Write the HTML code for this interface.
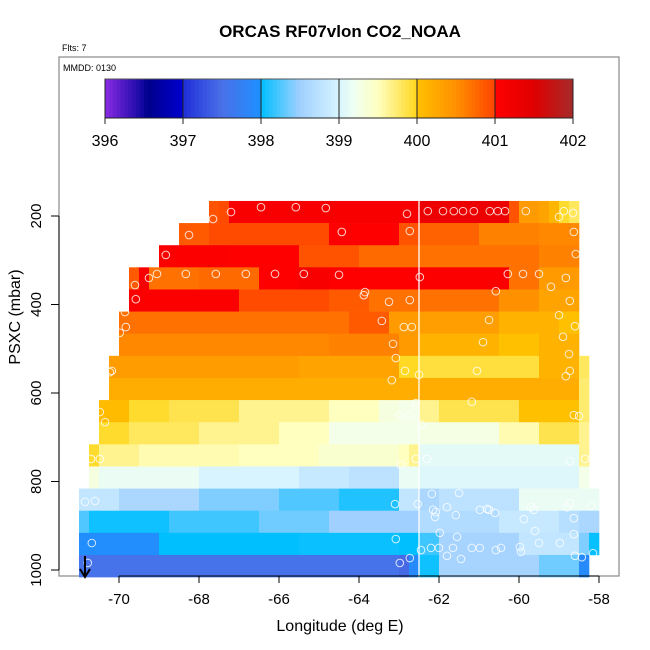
<!DOCTYPE html>
<html><head><meta charset="utf-8"><style>
body{margin:0;background:#fff;}
svg{display:block;font-family:"Liberation Sans",sans-serif;}
</style></head><body>
<svg id="chart" width="650" height="650" viewBox="0 0 650 650">
<text x="340" y="37" text-anchor="middle" font-size="17" font-weight="bold">ORCAS RF07vlon CO2_NOAA</text>
<text x="62" y="51" font-size="9">Flts: 7</text>
<rect x="59" y="57" width="560" height="519" fill="none" stroke="#888" stroke-width="1.2"/>
<text x="63" y="71" font-size="9">MMDD: 0130</text>
<g id="cbar"></g>
<g id="cells"></g>
<line id="vline" stroke="#fff" stroke-width="1.3"/>
<g id="pts"></g>
<g id="axes"></g>
<text x="340" y="631" text-anchor="middle" font-size="16">Longitude (deg E)</text>
<text transform="translate(20,317) rotate(-90)" text-anchor="middle" font-size="16">PSXC (mbar)</text>
<g><line x1="85" y1="556" x2="85" y2="576" stroke="#000" stroke-width="2"/><path d="M80,569 L85,577 L90,569" fill="none" stroke="#000" stroke-width="2"/></g>
</svg>
<script>
const NS="http://www.w3.org/2000/svg";
const colorStops=[396,396.45,396.55,397,397.01,397.5,397.99,398,398.5,399,399.2,399.5,399.99,400,400.5,400.99,401,401.5,402];
const colorHex=["#8a2be2","#1a0aa8","#00008b","#0000d0","#2030d8","#4a70e8","#1e90ff","#00bfff","#a0d0ff","#d8f4ff","#f0fff0","#ffffc0","#ffd820","#ffc000","#ff9000","#ff4500","#ff0000","#e00000","#a52a2a"];
const cbarTicks=[396,397,398,399,400,401,402];
const xTicks=[-70,-68,-66,-64,-62,-60,-58];
const yTicks=[200,400,600,800,1000];
const rowTopP=[166,216,266,316,366,416,466,516,566,616,666,716,766,816,866,916,966];
const rowStartLon=[-67.75,-68.5,-69,-69.75,-69.75,-70,-70,-70.25,-70.25,-70.5,-70.5,-70.75,-70.75,-71,-71,-71,-71];
const rowRuns=[
[[1,400.9],[1,400.95],[19,401.1],[9,401.3],[1,400.9],[2,400.4],[1,400.3],[1,400.1],[1,399.95],[1,399.8]],
[[3,400.85],[12,400.95],[7,401.0],[2,400.9],[6,400.8],[6,400.6],[4,400.55]],
[[7,401.05],[7,401.0],[6,400.9],[6,400.75],[12,400.7],[4,400.6]],
[[1,400.85],[1,401.1],[5,400.7],[6,400.75],[4,401.0],[3,401.1],[9,401.0],[9,401.05],[3,400.7],[4,400.4]],
[[11,401.05],[9,400.95],[4,400.85],[5,400.7],[8,400.7],[4,400.5],[4,400.3]],
[[23,400.7],[4,400.85],[3,400.4],[8,400.35],[6,400.15],[2,400.0]],
[[21,400.55],[7,400.6],[2,400.4],[8,400.15],[4,400.0],[4,400.15]],
[[19,400.38],[10,400.3],[2,399.98],[12,399.9],[4,400.15],[1,399.8]],
[[47,400.2],[1,399.75]],
[[3,400.05],[4,399.95],[7,399.85],[9,399.65],[5,399.5],[2,399.3],[2,399.25],[2,399.65],[8,399.85],[6,400.0],[1,399.75]],
[[3,399.95],[7,399.8],[8,399.65],[5,399.5],[9,399.25],[8,399.28],[4,399.55],[4,399.85],[1,399.65]],
[[1,399.95],[4,399.65],[10,399.55],[8,399.5],[8,399.4],[1,399.5],[1,399.65],[16,399.1],[1,399.65]],
[[1,399.3],[10,399.15],[10,399.0],[5,398.85],[5,398.75],[2,399.15],[8,399.05],[8,399.05],[1,399.25]],
[[4,398.8],[8,398.6],[8,398.4],[6,398.25],[6,398.1],[2,398.8],[2,398.6],[8,398.75],[8,399.15]],
[[1,398.25],[8,398.05],[9,398.2],[7,398.35],[9,398.5],[8,398.65],[6,398.85],[2,398.7],[2,398.6]],
[[8,397.95],[14,398.0],[10,398.03],[2,398.0],[2,398.2],[8,398.55],[6,398.8],[1,398.4],[1,398.02]],
[[32,397.55],[1,397.45],[1,397.9],[2,398.05],[10,398.55],[4,398.35],[1,397.9]]
];
const cellLon=0.25, rowDp=50, refLon=-62.5;
const ptLon=[-67.65,-67.2,-66.45,-65.58,-64.83,-62.8,-62.28,-61.9,-61.63,-61.4,-61.13,-60.73,-60.53,-60.35,-59.83,-59.0,-58.88,-58.65,-68.25,-64.43,-62.73,-58.63,-68.83,-58.58,-69.6,-69.25,-69.05,-68.33,-67.58,-66.83,-66.1,-65.38,-64.5,-62.48,-60.28,-59.9,-59.5,-59.2,-58.83,-69.58,-63.85,-63.88,-63.25,-62.73,-60.58,-58.73,-69.85,-69.83,-69.98,-63.43,-62.88,-62.68,-60.75,-59.0,-58.6,-63.15,-60.9,-58.9,-63.08,-58.75,-70.18,-70.23,-62.85,-62.5,-61.05,-58.73,-58.83,-63.18,-62.58,-61.18,-70.48,-70.35,-62.98,-62.73,-62.45,-58.63,-58.5,-70.7,-70.48,-62.58,-62.3,-58.73,-58.35,-62.95,-70.85,-70.6,-63.1,-62.53,-62.18,-61.5,-61.8,-62.15,-62.08,-62.1,-61.58,-60.98,-60.8,-60.75,-60.6,-59.7,-59.63,-59.88,-58.8,-58.73,-58.2,-58.63,-70.68,-63.08,-61.98,-61.55,-59.6,-58.63,-59.5,-58.98,-62.45,-62.2,-62.0,-61.65,-61.18,-60.98,-60.58,-60.45,-59.98,-59.95,-58.6,-58.43,-58.15,-61.8,-61.45,-70.78,-62.73,-62.98];
const ptP=[207,191,180,180,182,195,189,189,189,189,189,189,189,189,189,202,189,193,243,236,234,236,288,286,356,340,331,331,331,331,331,331,333,338,331,331,331,360,340,388,372,379,394,390,370,392,417,451,464,437,451,451,435,424,449,489,485,473,521,512,550,553,550,559,550,550,562,571,623,620,643,666,650,650,672,650,652,749,749,749,749,754,749,763,846,844,851,851,828,826,858,864,869,880,876,864,862,864,871,858,864,885,858,849,855,883,939,930,916,925,912,919,939,939,955,950,950,950,950,950,955,950,948,959,968,971,962,968,975,984,973,984];

const X=lon=>119+(lon+70)*40;
const Y=p=>216+(p-200)*0.4425;
const CB=v=>105+(v-396)*78;
function hex2rgb(h){return [1,3,5].map(i=>parseInt(h.substr(i,2),16));}
function col(v){
  if(v<=colorStops[0])return colorHex[0];
  for(let i=1;i<colorStops.length;i++){
    if(v<=colorStops[i]){
      const t=(v-colorStops[i-1])/(colorStops[i]-colorStops[i-1]);
      const a=hex2rgb(colorHex[i-1]),b=hex2rgb(colorHex[i]);
      return "rgb("+a.map((c,j)=>Math.round(c+(b[j]-c)*t)).join(",")+")";
    }
  }
  return colorHex[colorHex.length-1];
}
function mk(tag,attrs,parent){const e=document.createElementNS(NS,tag);for(const k in attrs)e.setAttribute(k,attrs[k]);parent.appendChild(e);return e;}

// colorbar
const cb=document.getElementById('cbar');
for(let v=396;v<402;v+=0.05){
  const r=mk('rect',{x:CB(v),y:79,width:78*0.05+0.4,height:39,fill:col(v+0.025)},cb);
  
  
}
const cf=mk('rect',{x:CB(396),y:79,width:CB(402)-CB(396),height:39,fill:'none',stroke:'#555','stroke-width':1},cb);


cbarTicks.forEach(v=>{
  const l=mk('line',{x1:CB(v),x2:CB(v),y1:79,y2:124,stroke:'#222','stroke-width':1},cb);
  
  
  const t=mk('text',{x:CB(v),y:146,'text-anchor':'middle','font-size':16},cb);
  
  
  t.textContent=v;
});
mk('line',{x1:CB(396),x2:CB(402),y1:118,y2:118,stroke:'#222'},cb);

// heatmap cells
const cg=document.getElementById('cells');
rowRuns.forEach((runs,ri)=>{
  let lon=rowStartLon[ri];
  const y0=Y(rowTopP[ri]), y1=Y(rowTopP[ri]+rowDp);
  runs.forEach(([n,v])=>{
    const x0=X(lon), x1=X(lon+n*cellLon);
    const r=mk('rect',{x:x0,y:y0,width:x1-x0+0.3,height:y1-y0+0.3,fill:col(v)},cg);
    
    
    lon+=n*cellLon;
  });
});
const vl=document.getElementById('vline');
vl.setAttribute('x1',X(refLon));vl.setAttribute('x2',X(refLon));
vl.setAttribute('y1',Y(rowTopP[0]));vl.setAttribute('y2',Y(rowTopP[rowTopP.length-1]+rowDp));

// points
const pg=document.getElementById('pts');
ptLon.forEach((lo,i)=>{
  const c=mk('circle',{cx:X(lo),cy:Y(ptP[i]),r:3.8,fill:'none',stroke:'rgba(255,255,255,0.8)','stroke-width':1},pg);
  
  
});

// axes
const ag=document.getElementById('axes');
mk('line',{x1:X(xTicks[0]),x2:X(xTicks[xTicks.length-1]),y1:576,y2:576,stroke:'#000'},ag);
xTicks.forEach(v=>{
  mk('line',{x1:X(v),x2:X(v),y1:576,y2:583,stroke:'#000'},ag);
  const t=mk('text',{x:X(v),y:604,'text-anchor':'middle','font-size':15},ag);
  
  
  t.textContent=v;
});
mk('line',{x1:59,x2:59,y1:Y(yTicks[0]),y2:Y(yTicks[yTicks.length-1]),stroke:'#000'},ag);
yTicks.forEach(v=>{
  mk('line',{x1:51,x2:59,y1:Y(v),y2:Y(v),stroke:'#000'},ag);
  const t=mk('text',{transform:'translate(41,'+Y(v)+') rotate(-90)','text-anchor':'middle','font-size':15},ag);
  
  
  t.textContent=v;
});
</script>
</body></html>
